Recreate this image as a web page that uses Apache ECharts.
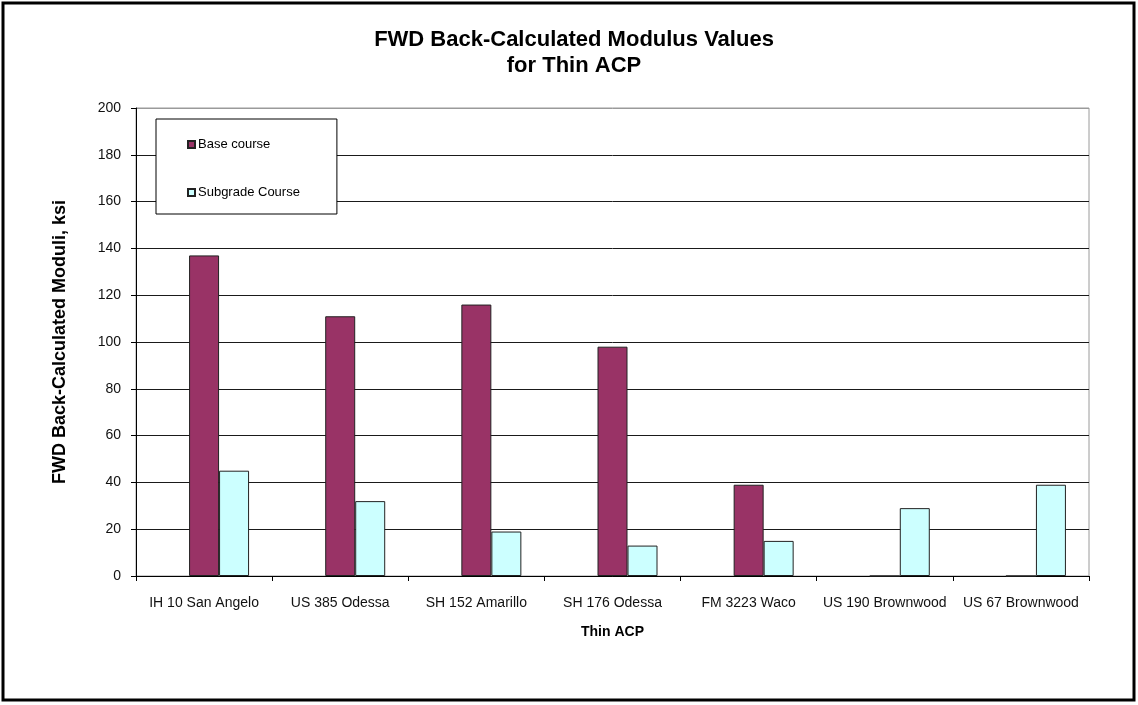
<!DOCTYPE html>
<html>
<head>
<meta charset="utf-8">
<script src="https://cdn.jsdelivr.net/npm/echarts@6/dist/echarts.min.js"></script>
<style>
  html, body { margin: 0; padding: 0; background: #fff; }
  #chart { width: 1138px; height: 705px; }
</style>
</head>
<body>
<div id="chart"></div>
<script>
// Sections tested with the falling weight deflectometer
const categories = ['IH 10 San Angelo', 'US 385 Odessa', 'SH 152 Amarillo', 'SH 176 Odessa', 'FM 3223 Waco', 'US 190 Brownwood', 'US 67 Brownwood'];
// Back-calculated moduli, ksi
const baseCourse = [137, 111, 116, 98, 39, 0, 0];
const subgradeCourse = [45, 32, 19, 13, 15, 29, 39];
const yTicks = { min: 0, max: 200, interval: 20 };

const font = 'Liberation Sans, Arial, sans-serif';
// the top grid line (at the maximum) is lighter, like the plot frame
const splitColors = [];
for (let v = yTicks.min; v <= yTicks.max; v += yTicks.interval) {
  splitColors.push(v === yTicks.max ? '#9a9a9a' : '#1a1a1a');
}
// an empty slot on the left so each bar pair sits right of the category centre
const emptySlot = categories.map(() => null);

const chart = echarts.init(document.getElementById('chart'), null, { renderer: 'canvas' });
chart.setOption({
  backgroundColor: '#fff',
  animation: false,
  title: {
    text: 'FWD Back-Calculated Modulus Values\nfor Thin ACP',
    left: 569,
    top: 22,
    textAlign: 'center',
    textStyle: { fontFamily: font, fontSize: 22, fontWeight: 'bold', color: '#000', lineHeight: 26 }
  },
  legend: {
    orient: 'vertical',
    left: 156,
    top: 119,
    padding: [19, 37, 15, 31],
    itemGap: 35,
    itemWidth: 7,
    itemHeight: 7,
    icon: 'rect',
    borderColor: '#000',
    borderWidth: 1,
    backgroundColor: '#fff',
    textStyle: { fontFamily: font, fontSize: 13, color: '#000', padding: [0, 0, 0, -2] },
    data: ['Base course', 'Subgrade Course']
  },
  grid: {
    left: 136, right: 49, top: 108, bottom: 129,
    show: true, borderColor: '#9a9a9a', borderWidth: 1
  },
  xAxis: {
    type: 'category',
    data: categories,
    name: 'Thin ACP',
    nameLocation: 'middle',
    nameGap: 49,
    nameTextStyle: { fontFamily: font, fontSize: 14, fontWeight: 'bold', color: '#000' },
    axisLine: { lineStyle: { color: '#000', width: 1 } },
    axisTick: { show: true, length: 5, lineStyle: { color: '#000' } },
    axisLabel: { interval: 0, margin: 20, fontFamily: font, fontSize: 14, color: '#111' }
  },
  yAxis: {
    type: 'value',
    min: yTicks.min,
    max: yTicks.max,
    interval: yTicks.interval,
    name: 'FWD Back-Calculated Moduli, ksi',
    nameLocation: 'middle',
    nameGap: 67,
    nameTextStyle: { fontFamily: font, fontSize: 18, fontWeight: 'bold', color: '#000' },
    axisLine: { show: true, lineStyle: { color: '#000', width: 1 } },
    axisTick: { show: true, length: 5, lineStyle: { color: '#000' } },
    axisLabel: { margin: 15, fontFamily: font, fontSize: 14, color: '#111' },
    splitLine: { show: true, lineStyle: { color: splitColors, width: 1 } }
  },
  series: [
    {
      id: 'spacer',
      type: 'bar',
      data: emptySlot,
      barWidth: 30,
      barGap: '0%',
      silent: true,
      itemStyle: { color: 'transparent' }
    },
    {
      name: 'Base course',
      type: 'bar',
      data: baseCourse,
      barWidth: 30,
      barGap: '0%',
      itemStyle: { color: '#993366', borderColor: '#222', borderWidth: 1 }
    },
    {
      name: 'Subgrade Course',
      type: 'bar',
      data: subgradeCourse,
      barWidth: 30,
      barGap: '0%',
      itemStyle: { color: '#CCFFFF', borderColor: '#222', borderWidth: 1 }
    }
  ],
  graphic: [
    {
      type: 'rect',
      shape: { x: 3, y: 3, width: 1131, height: 697 },
      style: { fill: 'none', stroke: '#000', lineWidth: 3 },
      silent: true,
      z: 100
    }
  ]
});
</script>
</body>
</html>
